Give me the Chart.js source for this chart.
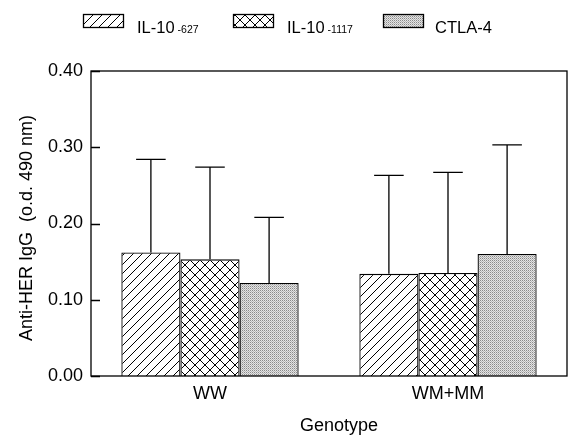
<!DOCTYPE html>
<html>
<head>
<meta charset="utf-8">
<script src="https://cdn.jsdelivr.net/npm/chart.js@4/dist/chart.umd.min.js"></script>
<style>
  html, body { margin: 0; padding: 0; background: #fff; }
  #wrap { width: 573px; height: 435px; }
</style>
</head>
<body>
<div id="wrap"><canvas id="chart" width="573" height="435"></canvas></div>
<script>
const genotypes = ["WW", "WM+MM"];
const il10_627 = [0.162, 0.134];
const il10_1117 = [0.153, 0.135];
const ctla4 = [0.122, 0.160];
// SD (upper error bar only)
const il10_627_sd = [0.122, 0.129];
const il10_1117_sd = [0.121, 0.132];
const ctla4_sd = [0.086, 0.143];
const yTicks = [0, 0.1, 0.2, 0.3, 0.4];

const FONT = "'Liberation Sans', Arial, sans-serif";

// patterns
function hatchPattern() {
    const c = document.createElement("canvas");
    c.width = 9; c.height = 9;
    const g = c.getContext("2d");
    g.fillStyle = "#fff"; g.fillRect(0, 0, 9, 9);
    g.strokeStyle = "#000"; g.lineWidth = 1;
    g.beginPath();
    g.moveTo(-1, 10); g.lineTo(10, -1);
    g.moveTo(-1, 1); g.lineTo(1, -1);
    g.moveTo(8, 10); g.lineTo(10, 8);
    g.stroke();
    return g.createPattern(c, "repeat");
}
function crossPattern() {
    const c = document.createElement("canvas");
    c.width = 10; c.height = 10;
    const g = c.getContext("2d");
    g.fillStyle = "#fff"; g.fillRect(0, 0, 10, 10);
    g.strokeStyle = "#000"; g.lineWidth = 1;
    g.beginPath();
    g.moveTo(-1, 11); g.lineTo(11, -1);
    g.moveTo(-1, -1); g.lineTo(11, 11);
    g.stroke();
    return g.createPattern(c, "repeat");
}
function dotPattern() {
    const c = document.createElement("canvas");
    c.width = 2; c.height = 2;
    const g = c.getContext("2d");
    g.fillStyle = "#e4e4e4"; g.fillRect(0, 0, 2, 2);
    g.fillStyle = "#8a8a8a"; g.fillRect(0, 0, 1, 1);
    g.fillStyle = "#b8b8b8"; g.fillRect(1, 1, 1, 1);
    return g.createPattern(c, "repeat");
}

const fills = [hatchPattern(), crossPattern(), dotPattern()];

const errorBars = {
    id: "errorBars",
    afterDatasetsDraw(chart) {
        const ctx = chart.ctx;
        const y = chart.scales.y;
        ctx.save();
        ctx.strokeStyle = "#000";
        ctx.lineWidth = 1.3;
        chart.data.datasets.forEach((ds, i) => {
            chart.getDatasetMeta(i).data.forEach((bar, j) => {
                const top = y.getPixelForValue(ds.data[j] + ds.sd[j]);
                const half = bar.width / 4;
                ctx.beginPath();
                ctx.moveTo(bar.x, bar.y);
                ctx.lineTo(bar.x, top);
                ctx.moveTo(bar.x - half, top);
                ctx.lineTo(bar.x + half, top);
                ctx.stroke();
            });
        });
        ctx.restore();
    }
};

// legend items: box left, text left
const legendItems = [
    { box: 83, text: 137, main: "IL-10", sub: "-627" },
    { box: 233, text: 287, main: "IL-10", sub: "-1117" },
    { box: 383, text: 435, main: "CTLA-4", sub: "" }
];

const frame = {
    id: "frame",
    afterDraw(chart) {
        const ctx = chart.ctx;
        const a = chart.chartArea;
        const y = chart.scales.y;
        ctx.save();
        ctx.strokeStyle = "#000";
        ctx.lineWidth = 1.3;
        ctx.strokeRect(a.left, a.top, a.right - a.left, a.bottom - a.top);
        ctx.beginPath();
        yTicks.forEach(v => {
            const py = Math.round(y.getPixelForValue(v)) + 0.5;
            ctx.moveTo(a.left, py);
            ctx.lineTo(a.left + 9, py);
        });
        ctx.stroke();

        // axis titles
        ctx.fillStyle = "#000";
        ctx.font = "18px " + FONT;
        ctx.textAlign = "center";
        ctx.textBaseline = "middle";
        ctx.save();
        ctx.translate(27, 228);
        ctx.rotate(-Math.PI / 2);
        ctx.fillText("Anti-HER IgG  (o.d. 490 nm)", 0, 0);
        ctx.restore();
        ctx.textBaseline = "alphabetic";
        ctx.fillText("Genotype", 339, 431);

        // legend
        ctx.textAlign = "left";
        legendItems.forEach((it, i) => {
            ctx.fillStyle = fills[i];
            ctx.fillRect(it.box, 14, 40, 13);
            ctx.strokeRect(it.box + 0.5, 14.5, 40, 13);
            ctx.fillStyle = "#000";
            ctx.font = "16.5px " + FONT;
            ctx.fillText(it.main, it.text, 33);
            if (it.sub) {
                const w = ctx.measureText(it.main).width;
                ctx.font = "10.5px " + FONT;
                ctx.fillText(it.sub, it.text + w + 3, 33);
            }
        });
        ctx.restore();
    }
};

new Chart(document.getElementById("chart"), {
    type: "bar",
    data: {
        labels: genotypes,
        datasets: [
            { label: "IL-10 -627", data: il10_627, sd: il10_627_sd, backgroundColor: fills[0] },
            { label: "IL-10 -1117", data: il10_1117, sd: il10_1117_sd, backgroundColor: fills[1] },
            { label: "CTLA-4", data: ctla4, sd: ctla4_sd, backgroundColor: fills[2] }
        ].map(d => Object.assign(d, {
            borderColor: "#000",
            borderWidth: 1.3,
            categoryPercentage: 0.745,
            barPercentage: 1.0
        }))
    },
    options: {
        responsive: false,
        animation: false,
        layout: { padding: { left: 0, right: 6, top: 71, bottom: 0 } },
        plugins: {
            legend: { display: false },
            tooltip: { enabled: false }
        },
        scales: {
            x: {
                grid: { display: false, drawTicks: false },
                border: { display: false },
                ticks: { color: "#000", font: { family: FONT, size: 18 }, padding: 7 },
                afterFit: s => { s.height = 59; }
            },
            y: {
                min: 0, max: 0.4,
                grid: { display: false, drawTicks: false },
                border: { display: false },
                ticks: {
                    stepSize: 0.1,
                    color: "#000",
                    font: { family: FONT, size: 18 },
                    padding: 8,
                    callback: v => v.toFixed(2)
                },
                afterFit: s => { s.width = 91; }
            }
        }
    },
    plugins: [errorBars, frame]
});
</script>
</body>
</html>
